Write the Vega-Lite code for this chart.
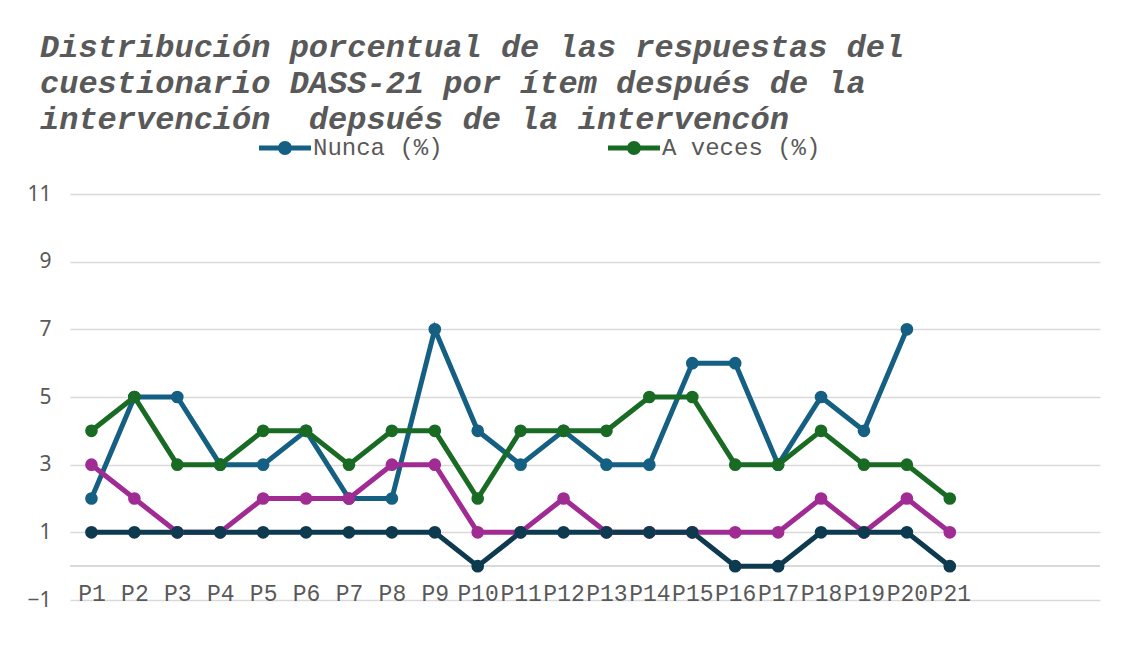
{
  "$schema": "https://vega.github.io/schema/vega-lite/v6.json",
  "width": 1030,
  "height": 406,
  "autosize": {"type": "none"},
  "padding": {"left": 70, "top": 194, "right": 34, "bottom": 64},
  "background": "white",
  "config": {"view": {"stroke": null}},
  "title": {
    "text": ["Distribución porcentual de las respuestas del", "cuestionario DASS-21 por ítem después de la", "intervención \u00a0depsués de la intervencón"],
    "anchor": "start",
    "frame": "group",
    "font": "Liberation Mono",
    "fontSize": 32,
    "fontStyle": "italic",
    "fontWeight": "bold",
    "color": "#595959",
    "lineHeight": 36,
    "dx": -30,
    "offset": 0
  },
  "data": {"values": [
    {"item":"P1","serie":"Nunca (%)","valor":2},{"item":"P2","serie":"Nunca (%)","valor":5},{"item":"P3","serie":"Nunca (%)","valor":5},{"item":"P4","serie":"Nunca (%)","valor":3},{"item":"P5","serie":"Nunca (%)","valor":3},{"item":"P6","serie":"Nunca (%)","valor":4},{"item":"P7","serie":"Nunca (%)","valor":2},{"item":"P8","serie":"Nunca (%)","valor":2},{"item":"P9","serie":"Nunca (%)","valor":7},{"item":"P10","serie":"Nunca (%)","valor":4},{"item":"P11","serie":"Nunca (%)","valor":3},{"item":"P12","serie":"Nunca (%)","valor":4},{"item":"P13","serie":"Nunca (%)","valor":3},{"item":"P14","serie":"Nunca (%)","valor":3},{"item":"P15","serie":"Nunca (%)","valor":6},{"item":"P16","serie":"Nunca (%)","valor":6},{"item":"P17","serie":"Nunca (%)","valor":3},{"item":"P18","serie":"Nunca (%)","valor":5},{"item":"P19","serie":"Nunca (%)","valor":4},{"item":"P20","serie":"Nunca (%)","valor":7},
    {"item":"P1","serie":"A veces (%)","valor":4},{"item":"P2","serie":"A veces (%)","valor":5},{"item":"P3","serie":"A veces (%)","valor":3},{"item":"P4","serie":"A veces (%)","valor":3},{"item":"P5","serie":"A veces (%)","valor":4},{"item":"P6","serie":"A veces (%)","valor":4},{"item":"P7","serie":"A veces (%)","valor":3},{"item":"P8","serie":"A veces (%)","valor":4},{"item":"P9","serie":"A veces (%)","valor":4},{"item":"P10","serie":"A veces (%)","valor":2},{"item":"P11","serie":"A veces (%)","valor":4},{"item":"P12","serie":"A veces (%)","valor":4},{"item":"P13","serie":"A veces (%)","valor":4},{"item":"P14","serie":"A veces (%)","valor":5},{"item":"P15","serie":"A veces (%)","valor":5},{"item":"P16","serie":"A veces (%)","valor":3},{"item":"P17","serie":"A veces (%)","valor":3},{"item":"P18","serie":"A veces (%)","valor":4},{"item":"P19","serie":"A veces (%)","valor":3},{"item":"P20","serie":"A veces (%)","valor":3},{"item":"P21","serie":"A veces (%)","valor":2},
    {"item":"P1","serie":"A menudo (%)","valor":3},{"item":"P2","serie":"A menudo (%)","valor":2},{"item":"P3","serie":"A menudo (%)","valor":1},{"item":"P4","serie":"A menudo (%)","valor":1},{"item":"P5","serie":"A menudo (%)","valor":2},{"item":"P6","serie":"A menudo (%)","valor":2},{"item":"P7","serie":"A menudo (%)","valor":2},{"item":"P8","serie":"A menudo (%)","valor":3},{"item":"P9","serie":"A menudo (%)","valor":3},{"item":"P10","serie":"A menudo (%)","valor":1},{"item":"P11","serie":"A menudo (%)","valor":1},{"item":"P12","serie":"A menudo (%)","valor":2},{"item":"P13","serie":"A menudo (%)","valor":1},{"item":"P14","serie":"A menudo (%)","valor":1},{"item":"P15","serie":"A menudo (%)","valor":1},{"item":"P16","serie":"A menudo (%)","valor":1},{"item":"P17","serie":"A menudo (%)","valor":1},{"item":"P18","serie":"A menudo (%)","valor":2},{"item":"P19","serie":"A menudo (%)","valor":1},{"item":"P20","serie":"A menudo (%)","valor":2},{"item":"P21","serie":"A menudo (%)","valor":1},
    {"item":"P1","serie":"Casi siempre (%)","valor":1},{"item":"P2","serie":"Casi siempre (%)","valor":1},{"item":"P3","serie":"Casi siempre (%)","valor":1},{"item":"P4","serie":"Casi siempre (%)","valor":1},{"item":"P5","serie":"Casi siempre (%)","valor":1},{"item":"P6","serie":"Casi siempre (%)","valor":1},{"item":"P7","serie":"Casi siempre (%)","valor":1},{"item":"P8","serie":"Casi siempre (%)","valor":1},{"item":"P9","serie":"Casi siempre (%)","valor":1},{"item":"P10","serie":"Casi siempre (%)","valor":0},{"item":"P11","serie":"Casi siempre (%)","valor":1},{"item":"P12","serie":"Casi siempre (%)","valor":1},{"item":"P13","serie":"Casi siempre (%)","valor":1},{"item":"P14","serie":"Casi siempre (%)","valor":1},{"item":"P15","serie":"Casi siempre (%)","valor":1},{"item":"P16","serie":"Casi siempre (%)","valor":0},{"item":"P17","serie":"Casi siempre (%)","valor":0},{"item":"P18","serie":"Casi siempre (%)","valor":1},{"item":"P19","serie":"Casi siempre (%)","valor":1},{"item":"P20","serie":"Casi siempre (%)","valor":1},{"item":"P21","serie":"Casi siempre (%)","valor":0}
  ]},
  "encoding": {
    "x": {
      "field": "item", "type": "ordinal",
      "scale": {"type": "point", "padding": 0.5, "domain": ["P1","P2","P3","P4","P5","P6","P7","P8","P9","P10","P11","P12","P13","P14","P15","P16","P17","P18","P19","P20","P21"," ","  ","   "]},
      "axis": {"title": null, "labelAngle": 0, "labelFont": "Liberation Mono", "labelFontSize": 23, "labelColor": "#595959", "labelBaseline": "middle", "labelPadding": -7, "ticks": false, "domain": false, "grid": false, "labelOverlap": false}
    },
    "y": {
      "field": "valor", "type": "quantitative",
      "scale": {"domain": [-1, 11], "nice": false, "zero": false},
      "axis": {"title": null, "values": [-1, 1, 3, 5, 7, 9, 11], "labelFont": "Noto Sans", "labelFontSize": 21, "labelColor": "#595959", "labelPadding": 19, "ticks": false, "domain": false, "grid": true, "gridColor": "#d9d9d9", "gridWidth": 1.5}
    },
    "color": {
      "field": "serie", "type": "nominal",
      "scale": {"domain": ["Nunca (%)", "A veces (%)", "A menudo (%)", "Casi siempre (%)"], "range": ["#156082", "#196B24", "#A02B93", "#0E3A4F"]},
      "legend": {
        "title": null, "orient": "none", "legendX": 203, "legendY": -58, "direction": "horizontal",
        "values": ["Nunca (%)", "A veces (%)"],
        "symbolType": "M-2.5,-0.24 L2.5,-0.24 L2.5,0.24 L-2.5,0.24 Z M-0.67,0 A0.67,0.67 0 1,1 0.67,0 A0.67,0.67 0 1,1 -0.67,0 Z",
        "symbolSize": 432, "symbolStrokeWidth": 0, "symbolOpacity": 1,
        "labelFont": "Liberation Mono", "labelFontSize": 24, "labelColor": "#595959", "labelOffset": 16,
        "columnPadding": 165
      }
    }
  },
  "layer": [
    {"mark": {"type": "rule", "color": "#d9d9d9", "strokeWidth": 1.5}, "encoding": {"x": null, "color": null, "y": {"datum": 0}}},
    {"mark": {"type": "line", "strokeWidth": 5}},
    {"mark": {"type": "point", "filled": true, "opacity": 1, "size": 160}}
  ]
}
